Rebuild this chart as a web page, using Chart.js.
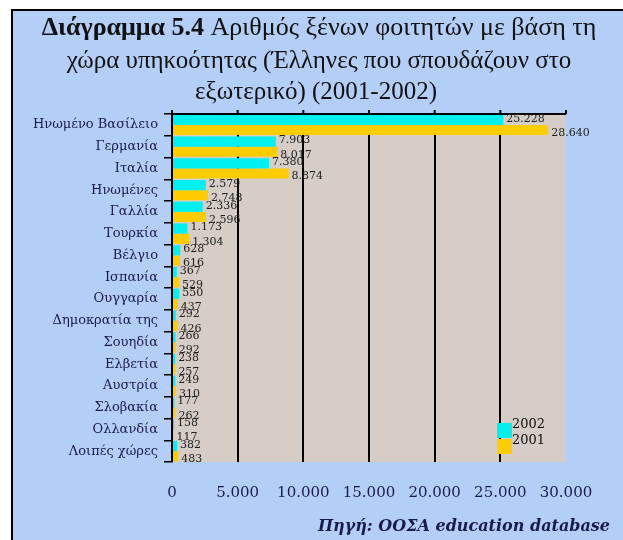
<!DOCTYPE html>
<html>
<head>
<meta charset="utf-8">
<script src="https://cdn.jsdelivr.net/npm/chart.js@4/dist/chart.umd.min.js"></script>
<style>
  body { margin: 0; background: #fff; }
  canvas { display: block; }
</style>
</head>
<body>
<canvas id="chart" width="623" height="540"></canvas>
<script>
const categories = ['Ηνωμένο Βασίλειο', 'Γερμανία', 'Ιταλία', 'Ηνωμένες', 'Γαλλία', 'Τουρκία', 'Βέλγιο', 'Ισπανία',
    'Ουγγαρία', 'Δημοκρατία της', 'Σουηδία', 'Ελβετία', 'Αυστρία', 'Σλοβακία', 'Ολλανδία', 'Λοιπές χώρες'];
const values2002 = [25228, 7903, 7380, 2579, 2336, 1173, 628, 367, 550, 292, 266, 238, 249, 177, 158, 382];
const values2001 = [28640, 8017, 8874, 2748, 2596, 1304, 616, 529, 437, 426, 292, 257, 310, 262, 117, 483];
const xTickValues = [0, 5000, 10000, 15000, 20000, 25000, 30000];

const titleLines = ['χώρα υπηκοότητας (Έλληνες που σπουδάζουν στο', 'εξωτερικό) (2001-2002)'];
const sourceText = 'Πηγή: ΟΟΣΑ education database';

const navy = '#1b1b4a';
const serif = '"Liberation Serif", serif';
const wide = '"DejaVu Serif", serif';

function fmt(v) {
    return String(v).replace(/\B(?=(\d{3})+(?!\d))/g, '.');
}

// background, frame, title, source, plot area fill
const decor = {
    id: 'decor',
    beforeDraw(chart) {
        const ctx = chart.ctx;
        const a = chart.chartArea;
        ctx.save();
        ctx.fillStyle = '#fff';
        ctx.fillRect(0, 0, chart.width, chart.height);
        ctx.fillStyle = '#b3cff7';
        ctx.fillRect(12, 10, chart.width - 12, chart.height - 10);
        ctx.strokeStyle = '#000';
        ctx.lineWidth = 2;
        ctx.beginPath();
        ctx.moveTo(12, chart.height);
        ctx.lineTo(12, 10);
        ctx.lineTo(chart.width, 10);
        ctx.stroke();

        // title
        ctx.fillStyle = '#111';
        ctx.textBaseline = 'middle';
        const boldPart = 'Διάγραμμα 5.4';
        const restPart = ' Αριθμός ξένων φοιτητών με βάση τη';
        ctx.font = 'bold 26px ' + serif;
        const wb = ctx.measureText(boldPart).width;
        ctx.font = '26px ' + serif;
        const wr = ctx.measureText(restPart).width;
        let x0 = 319 - (wb + wr) / 2;
        ctx.textAlign = 'left';
        ctx.font = 'bold 26px ' + serif;
        ctx.fillText(boldPart, x0, 28);
        ctx.font = '26px ' + serif;
        ctx.fillText(restPart, x0 + wb, 28);
        ctx.textAlign = 'center';
        ctx.font = '25px ' + serif;
        ctx.fillText(titleLines[0], 319, 61);
        ctx.fillText(titleLines[1], 316, 92);

        // source
        ctx.fillStyle = navy;
        ctx.textAlign = 'right';
        ctx.font = 'italic bold 16px ' + wide;
        ctx.fillText(sourceText, 610, 527);

        // plot area
        ctx.fillStyle = '#d5cdc6';
        ctx.fillRect(a.left, a.top, a.right - a.left, a.bottom - a.top);
        ctx.restore();
    },
    afterDatasetsDraw(chart) {
        const ctx = chart.ctx;
        const a = chart.chartArea;
        const xs = chart.scales.x;
        ctx.save();
        // top border with small ticks
        ctx.strokeStyle = '#000';
        ctx.lineWidth = 2;
        ctx.beginPath();
        ctx.moveTo(a.left, a.top);
        ctx.lineTo(a.right, a.top);
        xTickValues.forEach(v => {
            const px = xs.getPixelForValue(v);
            ctx.moveTo(px, a.top);
            ctx.lineTo(px, a.top - 4);
        });
        ctx.stroke();

        // value labels
        ctx.fillStyle = '#222';
        ctx.font = '11px ' + wide;
        ctx.textAlign = 'left';
        ctx.textBaseline = 'middle';
        chart.data.datasets.forEach((ds, di) => {
            chart.getDatasetMeta(di).data.forEach((bar, i) => {
                ctx.fillText(fmt(ds.data[i]), bar.x + 3, bar.y + (di === 0 ? -1 : 3));
            });
        });

        // legend
        const items = [['2002', '#00f0f0'], ['2001', '#ffcc00']];
        ctx.font = '13px ' + wide;
        items.forEach((it, k) => {
            const y = 430 + k * 16;
            ctx.fillStyle = it[1];
            ctx.fillRect(497, y - 7, 15, 15);
            ctx.fillStyle = '#111';
            ctx.fillText(it[0], 512, y - 5);
        });
        ctx.restore();
    }
};

new Chart(document.getElementById('chart'), {
    type: 'bar',
    data: {
        labels: categories,
        datasets: [
            { label: '2002', data: values2002, backgroundColor: '#00f0f0', barPercentage: 1, categoryPercentage: 0.94 },
            { label: '2001', data: values2001, backgroundColor: '#ffcc00', barPercentage: 1, categoryPercentage: 0.94 }
        ]
    },
    options: {
        indexAxis: 'y',
        responsive: false,
        animation: false,
        layout: { padding: { left: 12, top: 114, right: 57, bottom: 0 } },
        plugins: {
            legend: { display: false },
            tooltip: { enabled: false }
        },
        scales: {
            x: {
                min: 0,
                max: 30000,
                afterBuildTicks: scale => { scale.ticks = xTickValues.map(v => ({ value: v })); },
                afterFit: scale => { scale.height = 78; },
                ticks: {
                    callback: v => fmt(v),
                    color: navy,
                    font: { family: wide, size: 15 },
                    padding: 22,
                    maxRotation: 0
                },
                grid: {
                    color: c => (c.tick && c.tick.value > 0 && c.tick.value < 30000) ? '#000' : 'rgba(0,0,0,0)',
                    lineWidth: 2,
                    drawTicks: false
                },
                border: { display: false }
            },
            y: {
                afterFit: scale => { scale.width = 160; },
                ticks: {
                    color: navy,
                    font: { family: wide, size: 13 },
                    padding: 6,
                    autoSkip: false
                },
                grid: {
                    offset: true,
                    drawOnChartArea: false,
                    color: '#000',
                    lineWidth: 1.5,
                    tickLength: 8
                },
                border: { color: '#000', width: 2 }
            }
        }
    },
    plugins: [decor]
});
</script>
</body>
</html>
